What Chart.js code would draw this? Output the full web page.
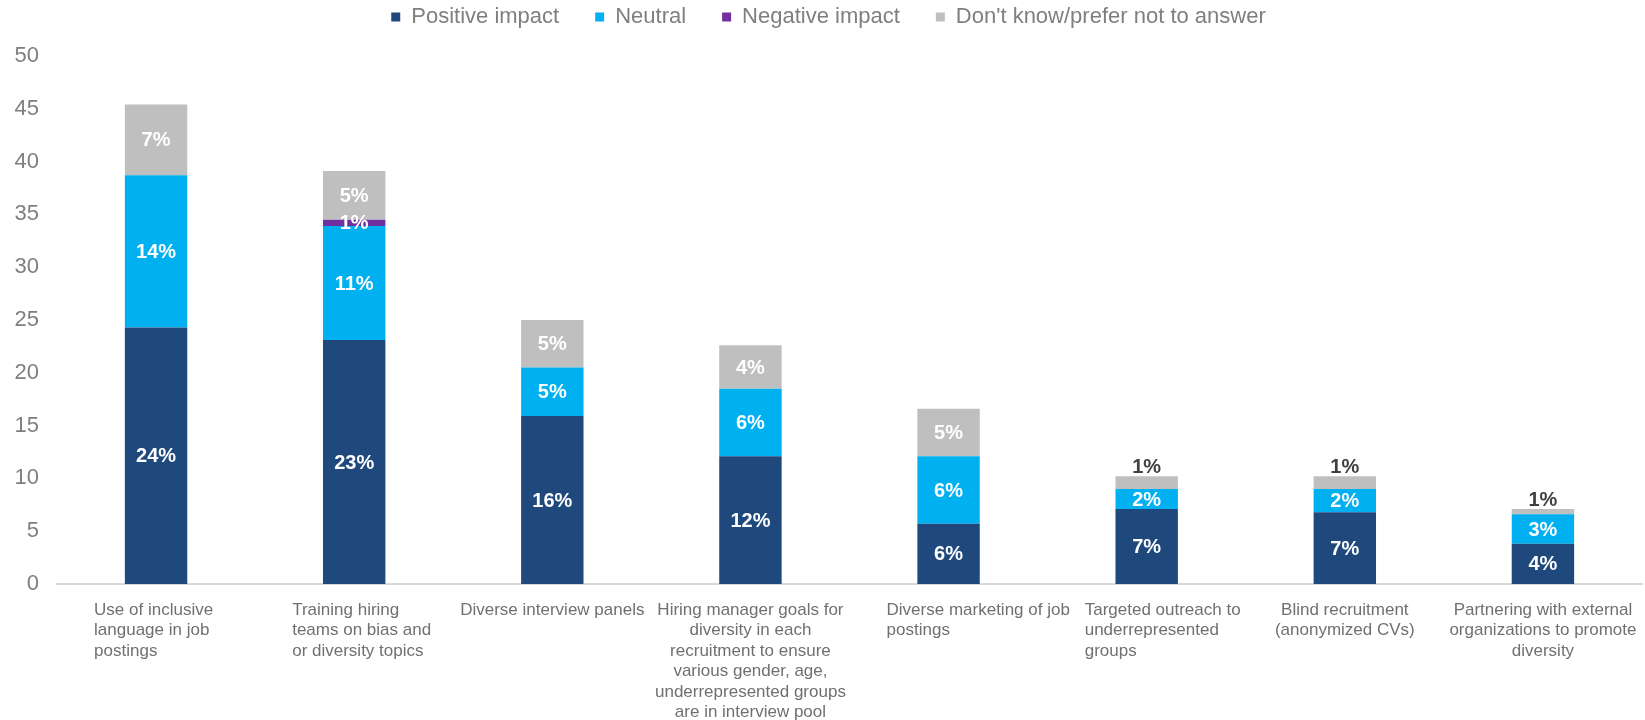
<!DOCTYPE html>
<html>
<head>
<meta charset="utf-8">
<title>Recruitment practices</title>
<script src="https://cdn.jsdelivr.net/npm/chart.js@4.4.1/dist/chart.umd.min.js"></script>
<style>
  body { margin: 0; background: #fff; }
  #wrap { width: 1645px; height: 720px; }
</style>
</head>
<body>
<div id="wrap"><canvas id="myChart"></canvas></div>
<script>
const categories = [
  ['Use of inclusive', 'language in job', 'postings'],
  ['Training hiring', 'teams on bias and', 'or diversity topics'],
  ['Diverse interview panels'],
  ['Hiring manager goals for', 'diversity in each', 'recruitment to ensure', 'various gender, age,', 'underrepresented groups', 'are in interview pool'],
  ['Diverse marketing of job', 'postings'],
  ['Targeted outreach to', 'underrepresented', 'groups'],
  ['Blind recruitment', '(anonymized CVs)'],
  ['Partnering with external', 'organizations to promote', 'diversity']
]
const seriesNames = ['Positive impact', 'Neutral', 'Negative impact', "Don't know/prefer not to answer"]
const positive = [24.3, 23.1, 15.9, 12.1, 5.7, 7.1, 6.8, 3.8]
const neutral = [14.4, 10.8, 4.6, 6.4, 6.4, 1.9, 2.2, 2.8]
const negative = [0, 0.6, 0, 0, 0, 0, 0, 0]
const dontKnow = [6.7, 4.6, 4.5, 4.1, 4.5, 1.2, 1.2, 0.5]
const yTicks = [0, 5, 10, 15, 20, 25, 30, 35, 40, 45, 50]

const colors = ['#1f497d', '#00b0f0', '#7030a0', '#bfbfbf']
// wrapped category labels: some blocks are left-aligned, some centred
const labelAlign = ['left', 'left', 'center', 'center', 'left', 'left', 'center', 'center']
const fontFamily = '"Liberation Sans", Arial, sans-serif'

// small "don't know" slices get their label above the bar
const isOutside = function (datasetIndex, value) {
  return datasetIndex === 3 && value < 2
}

const segmentLabels = {
  id: 'segmentLabels',
  afterDatasetsDraw (chart) {
    const ctx = chart.ctx
    ctx.save()
    ctx.font = 'bold 20px ' + fontFamily
    ctx.textAlign = 'center'
    ctx.textBaseline = 'middle'
    chart.data.datasets.forEach((ds, i) => {
      const meta = chart.getDatasetMeta(i)
      meta.data.forEach((bar, j) => {
        const v = ds.data[j]
        if (!v) {
          return
        }
        const text = Math.round(v) + '%'
        if (isOutside(i, v)) {
          ctx.fillStyle = '#404040'
          ctx.fillText(text, bar.x, bar.y - 9)
        } else {
          ctx.fillStyle = '#ffffff'
          ctx.fillText(text, bar.x, (bar.y + bar.base) / 2 + 1)
        }
      })
    })
    ctx.restore()
  }
}

const categoryLabels = {
  id: 'categoryLabels',
  afterDraw (chart) {
    const ctx = chart.ctx
    const xScale = chart.scales.x
    ctx.save()
    ctx.font = '17px ' + fontFamily
    ctx.fillStyle = '#707070'
    ctx.textBaseline = 'middle'
    categories.forEach((lines, i) => {
      const x = xScale.getPixelForTick(i)
      lines.forEach((line, k) => {
        const y = chart.chartArea.bottom + 26 + k * 20.5
        if (labelAlign[i] === 'left') {
          ctx.textAlign = 'left'
          ctx.fillText(line, x - 62, y)
        } else {
          ctx.textAlign = 'center'
          ctx.fillText(line, x, y)
        }
      })
    })
    ctx.restore()
  }
}

// extra room between legend and plot
const legendSpace = {
  id: 'legendSpace',
  beforeInit (chart) {
    const fit = chart.legend.fit
    chart.legend.fit = function () {
      fit.bind(chart.legend)()
      this.height += 18
    }
  }
}

const series = [positive, neutral, negative, dontKnow]
const datasets = series.map((data, i) => {
  return {
    label: seriesNames[i],
    data: data,
    backgroundColor: colors[i],
    borderWidth: 0
  }
})

let ctx = document.getElementById('myChart').getContext('2d')
let chart = new Chart(ctx, {
  type: 'bar',
  data: {
    labels: categories,
    datasets: datasets
  },
  plugins: [legendSpace, segmentLabels, categoryLabels],
  options: {
    responsive: true,
    maintainAspectRatio: false,
    animation: false,
    layout: {
      padding: { top: -30, left: 15, right: 3, bottom: 136 }
    },
    datasets: {
      bar: {
        categoryPercentage: 1,
        barPercentage: 0.315
      }
    },
    plugins: {
      tooltip: { enabled: false },
      legend: {
        position: 'top',
        labels: {
          boxWidth: 9,
          boxHeight: 9,
          padding: 36,
          color: '#7f7f7f',
          font: { family: fontFamily, size: 22 }
        }
      }
    },
    scales: {
      x: {
        stacked: true,
        grid: { display: false, drawTicks: false },
        border: { display: true, color: '#d9d9d9', width: 2 },
        ticks: { display: false }
      },
      y: {
        stacked: true,
        min: yTicks[0],
        max: yTicks[yTicks.length - 1],
        grid: { display: false, drawTicks: false },
        border: { display: false },
        afterFit (scale) {
          scale.width = 42
        },
        ticks: {
          stepSize: yTicks[1] - yTicks[0],
          padding: 18,
          color: '#7f7f7f',
          font: { family: fontFamily, size: 22 }
        }
      }
    }
  }
})
</script>
</body>
</html>
